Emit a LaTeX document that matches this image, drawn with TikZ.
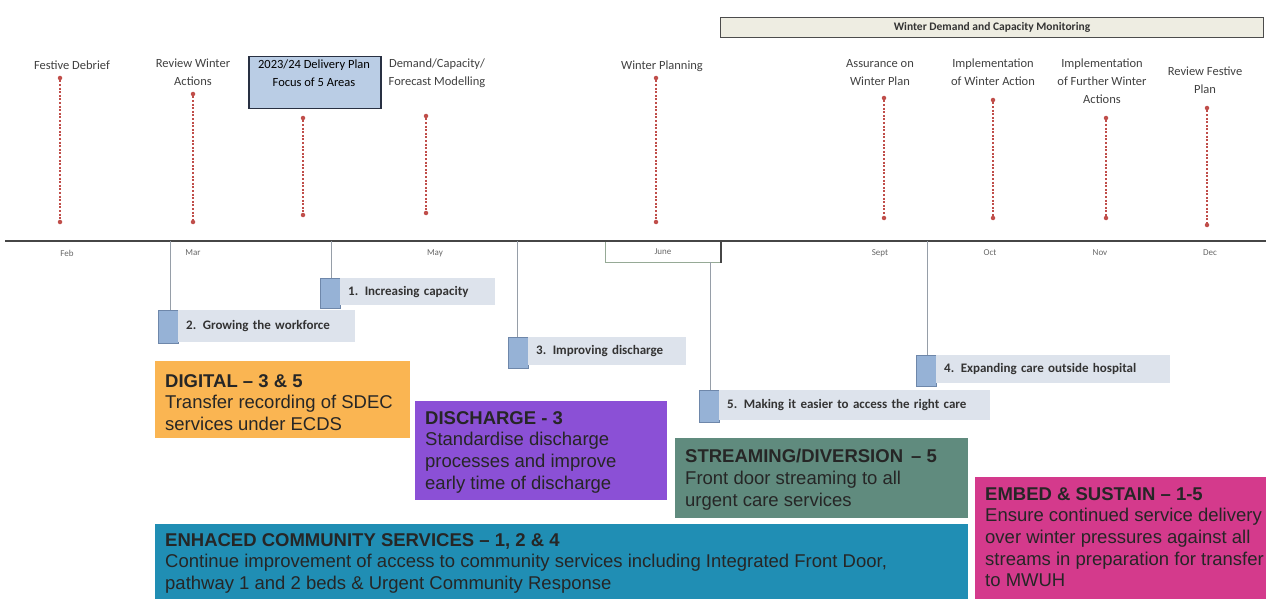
\documentclass[tikz,border=0pt]{standalone}
\usepackage{fontspec}
\setmainfont{Liberation Sans}
\newfontfamily\calfont{Carlito}
\definecolor{mred}{RGB}{192,78,74}
\definecolor{axisc}{RGB}{70,70,70}
\definecolor{vlinec}{RGB}{150,158,168}
\definecolor{wsqc}{RGB}{150,178,214}
\definecolor{wsqd}{RGB}{110,135,170}
\definecolor{wbg}{RGB}{221,227,236}
\definecolor{planfill}{RGB}{186,205,229}
\definecolor{planedge}{RGB}{40,48,66}
\definecolor{bannerfill}{RGB}{238,237,226}
\definecolor{corange}{RGB}{250,181,82}
\definecolor{cpurple}{RGB}{139,80,214}
\definecolor{cgreen}{RGB}{96,139,126}
\definecolor{cmagenta}{RGB}{212,58,140}
\definecolor{cteal}{RGB}{32,142,180}
\definecolor{junec}{RGB}{150,170,150}
\begin{document}
\begin{tikzpicture}[x=1pt,y=-1pt,
  ms/.style={font=\calfont\fontsize{12.5}{18}\selectfont, text=black!75, align=center, inner sep=0, anchor=north},
  mdot/.style={circle, fill=mred, inner sep=0, minimum size=4.5},
  mline/.style={draw=mred, line width=1.1, dash pattern=on 2pt off 1.6pt},
  month/.style={font=\calfont\fontsize{9}{11}\selectfont, text=black!60, inner sep=0},
  axisline/.style={draw=axisc, line width=2},
  vline/.style={draw=vlinec, line width=0.8},
  wsq/.style={fill=wsqc, draw=wsqd, line width=0.6, minimum width=20, inner sep=0, anchor=north west},
  wlab/.style={fill=wbg, anchor=north west, inner xsep=8, inner ysep=0, align=left,
    font=\calfont\bfseries\fontsize{13}{15}\selectfont, text=black!80},
  cbox/.style={anchor=north west, inner sep=0},
  ctext/.style={anchor=north west, inner sep=0, align=left, font=\fontsize{18.5}{21.7}\selectfont, text=black!85},
]
\useasboundingbox (0,0) rectangle (1266,599);

% ---------- banner ----------
\node[cbox, fill=bannerfill, draw=black!70, line width=1, minimum width=543, minimum height=20] (banner) at (720,17) {};
\node[font=\calfont\bfseries\fontsize{11.5}{13}\selectfont, text=black!80, inner sep=0] (bannertxt) at (banner.center) {Winter Demand and Capacity Monitoring};

% ---------- milestones ----------
\node[ms] (m1) at (72,61) {Festive Debrief};
\node[mdot] (m1t) at (60,78) {};
\node[mdot] (m1b) at (60,222) {};
\draw[mline] (m1t) -- (m1b);

\node[ms] (m2) at (193,59) {Review Winter\\Actions};
\node[mdot] (m2t) at (193,94) {};
\node[mdot] (m2b) at (193,222) {};
\draw[mline] (m2t) -- (m2b);

\node[cbox, fill=planfill, draw=planedge, line width=1.5, minimum width=132, minimum height=52] (plan) at (248,56) {};
\node[ms, text=black] (plantxt) at (314,60) {2023/24 Delivery Plan\\Focus of 5 Areas};
\node[mdot] (m3t) at (303,118) {};
\node[mdot] (m3b) at (303,215) {};
\draw[mline] (m3t) -- (m3b);

\node[ms] (m4) at (437,59) {Demand/Capacity/\\Forecast Modelling};
\node[mdot] (m4t) at (426,116) {};
\node[mdot] (m4b) at (426,213) {};
\draw[mline] (m4t) -- (m4b);

\node[ms] (m5) at (662,61) {Winter Planning};
\node[mdot] (m5t) at (656,78) {};
\node[mdot] (m5b) at (656,222) {};
\draw[mline] (m5t) -- (m5b);

\node[ms] (m6) at (880,59) {Assurance on\\Winter Plan};
\node[mdot] (m6t) at (884,98) {};
\node[mdot] (m6b) at (884,218) {};
\draw[mline] (m6t) -- (m6b);

\node[ms] (m7) at (993,59) {Implementation\\of Winter Action};
\node[mdot] (m7t) at (993,100) {};
\node[mdot] (m7b) at (993,218) {};
\draw[mline] (m7t) -- (m7b);

\node[ms] (m8) at (1102,59) {Implementation\\of Further Winter\\Actions};
\node[mdot] (m8t) at (1106,118) {};
\node[mdot] (m8b) at (1106,218) {};
\draw[mline] (m8t) -- (m8b);

\node[ms] (m9) at (1205,67) {Review Festive\\Plan};
\node[mdot] (m9t) at (1207,108) {};
\node[mdot] (m9b) at (1207,225) {};
\draw[mline] (m9t) -- (m9b);

% ---------- axis ----------
\coordinate (axL) at (5,241);
\coordinate (axR) at (1266,241);
\node[cbox, draw=junec, line width=0.8, minimum width=115, minimum height=21] (junebox) at (605,241) {};
\draw[axisc, line width=1.5] (junebox.north east) -- (junebox.south east);
\draw[axisline] (axL) -- (axR);

\node[month] (feb) at (67,253) {Feb};
\node[month] (mar) at (193,253) {Mar};
\node[month] (may) at (435,253) {May};
\node[month] (june) at (junebox.center) {June};
\node[month] (sep) at (880,253) {Sept};
\node[month] (oct) at (990,253) {Oct};
\node[month] (nov) at (1100,253) {Nov};
\node[month] (dec) at (1210,253) {Dec};

% ---------- workstreams ----------
\node[wsq, minimum height=30] (w1sq) at (320,278) {};
\node[wlab, minimum height=27, minimum width=155, text width=139] (w1) at (340,278) {1. Increasing capacity};
\node[wsq, minimum height=33] (w2sq) at (158,310) {};
\node[wlab, minimum height=32, minimum width=177, text width=161] (w2) at (178,310) {2. Growing the workforce};
\node[wsq, minimum height=31] (w3sq) at (508,337) {};
\node[wlab, minimum height=28, minimum width=158, text width=142] (w3) at (528,337) {3. Improving discharge};
\node[wsq, minimum height=31] (w4sq) at (916,355) {};
\node[wlab, minimum height=28, minimum width=234, text width=218] (w4) at (936,355) {4. Expanding care outside hospital};
\node[wsq, minimum height=32] (w5sq) at (699,390) {};
\node[wlab, minimum height=30, minimum width=271, text width=255] (w5) at (719,390) {5. Making it easier to access the right care};

\coordinate (v1) at (331,241);
\coordinate (v2) at (170,241);
\coordinate (v3) at (517,241);
\coordinate (v4) at (927,241);
\coordinate (v5) at (710,262);
\draw[vline] (v1) -- (v1 |- w1sq.north);
\draw[vline] (v2) -- (v2 |- w2sq.north);
\draw[vline] (v3) -- (v3 |- w3sq.north);
\draw[vline] (v4) -- (v4 |- w4sq.north);
\draw[vline] (v5) -- (v5 |- w5sq.north);

% ---------- coloured boxes ----------
\node[cbox, fill=corange, minimum width=255, minimum height=77] (digbox) at (155,361) {};
\node[ctext] (digtxt) at (165,374) {\textbf{DIGITAL – 3 \& 5}\\Transfer recording of SDEC\\services under ECDS};

\node[cbox, fill=cpurple, minimum width=252, minimum height=99] (disbox) at (415,401) {};
\node[ctext] (distxt) at (425,411) {\textbf{DISCHARGE - 3}\\Standardise discharge\\processes and improve\\early time of discharge};

\node[cbox, fill=cgreen, minimum width=293, minimum height=80] (strbox) at (675,438) {};
\node[ctext] (strtxt) at (685,449) {\textbf{STREAMING/DIVERSION\hspace{8pt}– 5}\\Front door streaming to all\\urgent care services};

\node[cbox, fill=cmagenta, minimum width=300, minimum height=130] (embbox) at (975,477) {};
\node[ctext] (embtxt) at (985,487) {\textbf{EMBED \& SUSTAIN – 1-5}\\Ensure continued service delivery\\over winter pressures against all\\streams in preparation for transfer\\to MWUH};

\node[cbox, fill=cteal, minimum width=813, minimum height=80] (enhbox) at (155,524) {};
\node[ctext] (enhtxt) at (165,533) {\textbf{ENHACED COMMUNITY SERVICES – 1, 2 \& 4}\\Continue improvement of access to community services including Integrated Front Door,\\pathway 1 and 2 beds \& Urgent Community Response};
\end{tikzpicture}
\end{document}
